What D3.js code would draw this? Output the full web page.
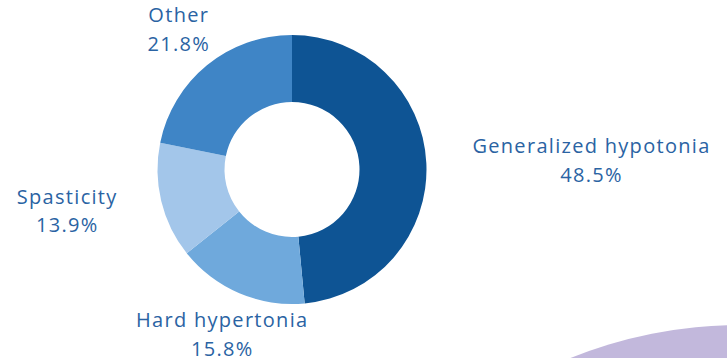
<!DOCTYPE html>
<html>
<head>
<meta charset="utf-8">
<script src="https://cdn.jsdelivr.net/npm/d3@7"></script>
<style>
  html, body { margin: 0; padding: 0; background: #ffffff; }
  svg { display: block; }
  text { font-family: "Open Sans", "Noto Sans", sans-serif; }
</style>
</head>
<body>
<svg id="chart" width="727" height="358"></svg>
<script>
// Muscle tone categories and their shares (%)
const categories = ["Generalized hypotonia", "Hard hypertonia", "Spasticity", "Other"];
const values = [48.5, 15.8, 13.9, 21.8];
const colors = ["#0e5494", "#6fa9dc", "#a3c6ea", "#3f85c6"];

const width = 727, height = 358;
const cx = 292, cy = 169.5;
const outerR = 134.5, innerR = 67.5, labelR = 180;
const textColor = "#2a63a3";
const fontSize = 20, letterSpacing = 1.3, lineGap = 28.5;

const svg = d3.select("#chart");

// decorative lavender disc peeking in at the lower right corner
svg.append("circle")
  .attr("cx", 740).attr("cy", 777).attr("r", 452)
  .attr("fill", "#c2b8dc");

const data = categories.map((c, i) => ({ name: c, value: values[i], color: colors[i] }));

const pie = d3.pie().sort(null).value(d => d.value);
const arcs = pie(data);

const arc = d3.arc().innerRadius(innerR).outerRadius(outerR);

const g = svg.append("g").attr("transform", `translate(${cx},${cy})`);

g.selectAll("path.slice")
  .data(arcs)
  .join("path")
  .attr("class", "slice")
  .attr("d", arc)
  .attr("fill", d => d.data.color);

// labels: two centred lines, block anchored towards the slice
const labels = g.selectAll("g.label")
  .data(arcs)
  .join("g")
  .attr("class", "label");

labels.each(function(d) {
  const a = (d.startAngle + d.endAngle) / 2;
  const sx = Math.sin(a), sy = -Math.cos(a);
  const x = labelR * sx, y = labelR * sy;
  const grp = d3.select(this);
  const mk = (txt, yy) => grp.append("text")
    .attr("text-anchor", "middle")
    .attr("font-size", fontSize)
    .attr("letter-spacing", letterSpacing)
    .attr("fill", textColor)
    .attr("y", yy)
    .text(txt);
  const t1 = mk(d.data.name, y - 8);
  const t2 = mk(d.data.value.toFixed(1) + "%", y - 8 + lineGap);
  const w = Math.max(t1.node().getComputedTextLength(), t2.node().getComputedTextLength());
  let bx = x;
  if (sx > 0.9) bx = x + w / 2;
  else if (sx < -0.9) bx = x - w / 2;
  t1.attr("x", bx + letterSpacing / 2);
  t2.attr("x", bx + letterSpacing / 2);
});
</script>
</body>
</html>
